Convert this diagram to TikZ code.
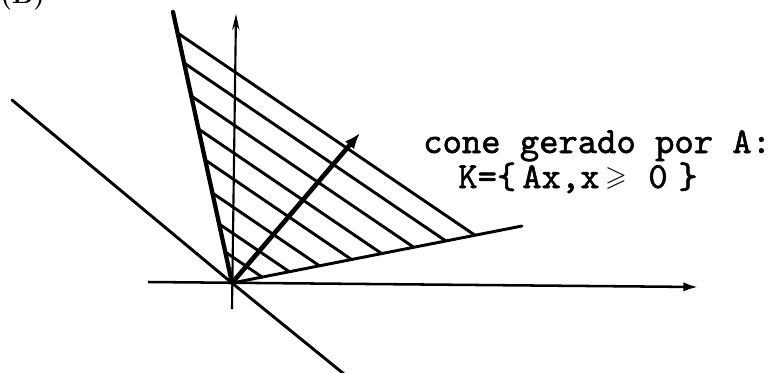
\documentclass[tikz,border=0pt]{standalone}
\usepackage{fontspec}
\usepackage{amssymb}
\newfontfamily\typew{lmmono10-regular.otf}[FakeBold=1.6]
\usetikzlibrary{arrows.meta}
\begin{document}
\begin{tikzpicture}[x=0.75pt,y=-0.75pt,
  hatch/.style={line width=2.2pt, line cap=round},
  boundthick/.style={line width=3.2pt, line cap=round},
  boundthin/.style={line width=2.2pt, line cap=round},
  axisline/.style={line width=1.9pt},
  vaxisline/.style={line width=1.6pt},
  vecline/.style={line width=3.5pt},
  lbl/.style={anchor=base west, inner sep=0pt, font=\fontsize{27.6}{33}\typew},
  glyph/.style={anchor=base, inner sep=0pt, font=\fontsize{27.6}{33}\typew}]
\useasboundingbox (0,0) rectangle (775,372);
% key points
\coordinate (O) at (232,283);
\coordinate (L) at (173,12);
\coordinate (R) at (522,226);
\coordinate (V) at (360,133);
\coordinate (xs) at (148,282);
\coordinate (xe) at (698,287);
\coordinate (ys) at (232,309);
\coordinate (ye) at (236,14);
\coordinate (d1) at (12,100);
\coordinate (d2) at (344,374);
% hatching
\foreach \yy in {33,63,96,129,160,193,224,252} {
  \pgfmathsetmacro\sx{232-59*(283-\yy)/271}
  \pgfmathsetmacro\ex{(283+0.19655*232-\yy+0.68*\sx)/(0.68+0.19655)}
  \pgfmathsetmacro\ey{\yy+0.68*(\ex-\sx)}
  \draw[hatch] (\sx,\yy) -- (\ex,\ey);
}
% axes
\draw[axisline, -{Latex[length=11pt,width=7pt]}] (xs) -- (xe);
\draw[vaxisline, -{Stealth[length=12pt,width=5.5pt]}] (ys) -- (ye);
% other line through the origin
\draw[boundthin] (d1) -- (O) -- (d2);
% cone boundaries
\draw[boundthick] (L) -- (O);
\draw[boundthin] (O) -- (R);
% generating vector
\draw[vecline, -{Latex[length=12pt,width=9pt]}] (O) -- (V);
% labels
\node[lbl] (t1) at (423,153) {cone gerado por A:};
\node[lbl] (t2a) at (458,188) {K=\{};
\node[lbl] (t2b) at (522,188) {Ax,x};
\node[anchor=base, inner sep=0pt, font=\fontsize{21}{24}\selectfont] (t2c) at (616,185.5) {$\geqslant$};
\node[glyph] (t2d) at (658,188) {0};
\node[glyph] (t2e) at (688,188) {\}};
\begin{scope}
\clip (0,0) rectangle (775,372);
\node[anchor=base west, inner sep=0pt, font=\fontsize{20}{24}\bfseries] (tb) at (0,3) {(B)};
\end{scope}
\end{tikzpicture}
\end{document}
